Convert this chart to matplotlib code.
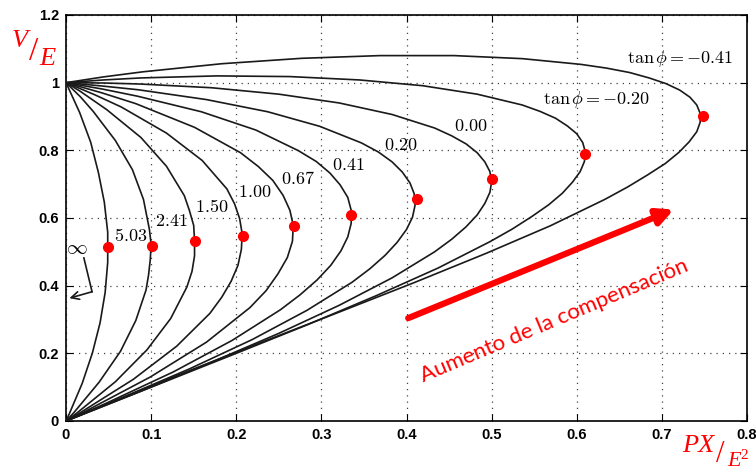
import matplotlib.pyplot as plt

plt.rcParams['mathtext.fontset'] = 'cm'

# nose curves V/E vs PX/E^2, one per tan(phi)
tan_phi = ['5.03', '2.41', '1.50', '1.00', '0.67', '0.41', '0.20', '0.00', '-0.20', '-0.41']

p_503 = [0, .008, .016, .029, .038, .045, .049, .049, .049, .046, .040, .031, .019, .004, 0]
v_503 = [1, .956, .912, .824, .735, .647, .558, .513, .469, .380, .290, .201, .111, .022, 0]

p_241 = [0, .017, .032, .058, .078, .091, .098, .100, .099, .097, .094, .082, .064, .039, .009, 0]
v_241 = [1, .958, .915, .829, .743, .655, .566, .522, .477, .432, .387, .297, .206, .115, .024, 0]

p_150 = [0, .017, .048, .088, .118, .139, .145, .150, .151, .151, .148, .142, .123, .095, .058, .012, 0]
v_150 = [1, .974, .920, .838, .753, .666, .622, .578, .533, .488, .442, .396, .303, .210, .116, .022, 0]

p_100 = [0, .034, .065, .118, .160, .189, .198, .204, .207, .206, .202, .194, .183, .169, .130, .079, .017, 0]
v_100 = [1, .964, .928, .851, .770, .686, .642, .598, .553, .507, .460, .413, .366, .318, .221, .123, .025, 0]

p_067 = [0, .042, .082, .151, .205, .226, .243, .255, .263, .267, .266, .260, .249, .235, .216, .165, .099, .020, 0]
v_067 = [1, .970, .938, .868, .793, .752, .711, .667, .623, .578, .531, .483, .435, .385, .335, .233, .130, .025, 0]

p_041 = [0, .043, .084, .159, .223, .273, .294, .310, .322, .331, .335, .335, .331, .323, .311, .295, .275, .252, .195, .126, .046, 0]
v_041 = [1, .981, .960, .914, .860, .799, .767, .733, .698, .661, .623, .584, .544, .503, .460, .417, .373, .329, .238, .145, .051, 0]

p_020 = [0, .043, .085, .165, .237, .298, .347, .367, .383, .395, .404, .409, .410, .407, .400, .389, .375, .357, .336, .283, .219, .145, .063, 0]
v_020 = [1, .990, .979, .950, .914, .871, .822, .795, .766, .736, .704, .672, .637, .602, .566, .528, .490, .450, .410, .327, .241, .154, .066, 0]

p_000 = [0, .044, .087, .171, .250, .321, .383, .433, .453, .470, .483, .492, .498, .500, .498, .492, .483, .470, .453, .433, .383, .321, .250, .171, .087, 0]
v_000 = [1, .999, .996, .985, .966, .940, .906, .866, .843, .819, .793, .766, .737, .707, .676, .643, .609, .574, .537, .500, .423, .342, .259, .174, .087, 0]

p_m020 = [0, .044, .088, .177, .263, .345, .419, .483, .536, .557, .575, .589, .600, .607, .610, .609, .604, .595, .583, .567, .547, .524, .498, .437, .365, .285, .200, .112, .023, 0]
v_m020 = [1, 1.008, 1.014, 1.020, 1.018, 1.008, .991, .966, .934, .915, .895, .872, .849, .823, .796, .767, .737, .706, .673, .639, .604, .567, .530, .452, .371, .286, .200, .112, .023, 0]

p_m041 = [0, .044, .090, .183, .277, .369, .456, .536, .605, .635, .662, .685, .705, .721, .733, .741, .745, .745, .741, .732, .720, .704, .683, .660, .633, .569, .494, .410, .320, .227, .133, .041, 0]
v_m041 = [1, 1.017, 1.032, 1.056, 1.072, 1.080, 1.080, 1.071, 1.054, 1.043, 1.030, 1.014, .997, .978, .957, .934, .909, .883, .855, .825, .794, .761, .727, .692, .655, .577, .496, .410, .321, .230, .137, .043, 0]

# red dots at the nose of each curve
nose_p = [0.049, 0.101, 0.152, 0.208, 0.268, 0.335, 0.412, 0.501, 0.610, 0.748]
nose_v = [0.513, 0.518, 0.533, 0.548, 0.575, 0.610, 0.655, 0.714, 0.790, 0.900]

# label positions
lab_p = [0.0755, 0.1235, 0.1706, 0.222, 0.272, 0.332, 0.393, 0.475, 0.623, 0.722]
lab_v = [0.547, 0.592, 0.633, 0.678, 0.716, 0.757, 0.817, 0.873, 0.950, 1.071]

xticks = [0, 0.1, 0.2, 0.3, 0.4, 0.5, 0.6, 0.7, 0.8]
xlabels = ['0', '0.1', '0.2', '0.3', '0.4', '0.5', '0.6', '0.7', '0.8']
yticks = [0, 0.2, 0.4, 0.6, 0.8, 1.0, 1.2]
ylabels = ['0', '0.2', '0.4', '0.6', '0.8', '1', '1.2']

curves = [(p_503, v_503), (p_241, v_241), (p_150, v_150), (p_100, v_100),
          (p_067, v_067), (p_041, v_041), (p_020, v_020), (p_000, v_000),
          (p_m020, v_m020), (p_m041, v_m041)]

fig = plt.figure(figsize=(7.56, 4.70), dpi=100)
ax = fig.add_axes([66/756, 1-421/470, (747-66)/756, (421-15)/470])

for p, v in curves:
    ax.plot(p, v, color='#1a1a1a', lw=1.2, zorder=3)

ax.plot(nose_p, nose_v, 'o', color='red', ms=7, zorder=4)

for i in range(len(tan_phi)):
    t = tan_phi[i]
    if i >= 8:
        s = r'$\tan\phi = ' + t + '$'
    else:
        s = r'$' + t + '$'
    ax.text(lab_p[i], lab_v[i], s, fontsize=13, ha='center', va='center', zorder=5)

# infinity label with bent arrow to the axis
ax.text(0.013, 0.512, r'$\infty$', fontsize=15, ha='center', va='center')
ax.plot([0.021, 0.0306], [0.482, 0.382], color='#1a1a1a', lw=1.2)
ax.annotate('', xy=(0.004, 0.363), xytext=(0.0306, 0.382),
            arrowprops=dict(arrowstyle='->', color='#1a1a1a', lw=1.2,
                            mutation_scale=14, shrinkA=0, shrinkB=0))

ax.set_xlim(0, 0.8)
ax.set_ylim(0, 1.2)
ax.set_xticks(xticks)
ax.set_xticklabels(xlabels)
ax.set_yticks(yticks)
ax.set_yticklabels(ylabels)
ax.tick_params(direction='in', length=5, top=True, right=True, pad=5,
               labelsize=10.5)
for lab in ax.get_xticklabels() + ax.get_yticklabels():
    lab.set_fontfamily('Liberation Sans')
    lab.set_fontweight('bold')
ax.grid(True, color='#444444', linestyle=(0, (1, 4)), lw=0.9)
for sp in ax.spines.values():
    sp.set_linewidth(1.2)

# red arrow and caption
ax.annotate('', xy=(0.714, 0.625), xytext=(0.402, 0.304),
            arrowprops=dict(arrowstyle='-|>', color='red', lw=4.5,
                            mutation_scale=24, shrinkA=0, shrinkB=0))
fig.text(423/756, 1-382/470, 'Aumento de la compensación', color='red',
         fontsize=16, family='Lato', rotation=22.8, rotation_mode='anchor',
         ha='left', va='baseline')

# axis labels in red
fig.text(12/756, 1-47/470, 'V', color='red', fontsize=19, family='Liberation Serif',
         style='italic', ha='left', va='baseline')
fig.text(29/756, 1-60/470, '/', color='red', fontsize=24, family='Liberation Serif',
         ha='left', va='baseline')
fig.text(39/756, 1-65/470, 'E', color='red', fontsize=19, family='Liberation Serif',
         style='italic', ha='left', va='baseline')

fig.text(682/756, 1-452/470, 'PX', color='red', fontsize=19, family='Liberation Serif',
         style='italic', ha='left', va='baseline')
fig.text(716/756, 1-462/470, '/', color='red', fontsize=22, family='Liberation Serif',
         ha='left', va='baseline')
fig.text(727/756, 1-466/470, 'E', color='red', fontsize=16, family='Liberation Serif',
         style='italic', ha='left', va='baseline')
fig.text(740/756, 1-459/470, '2', color='red', fontsize=11, family='Liberation Serif',
         ha='left', va='baseline')

fig.savefig('out.png', dpi=100)
